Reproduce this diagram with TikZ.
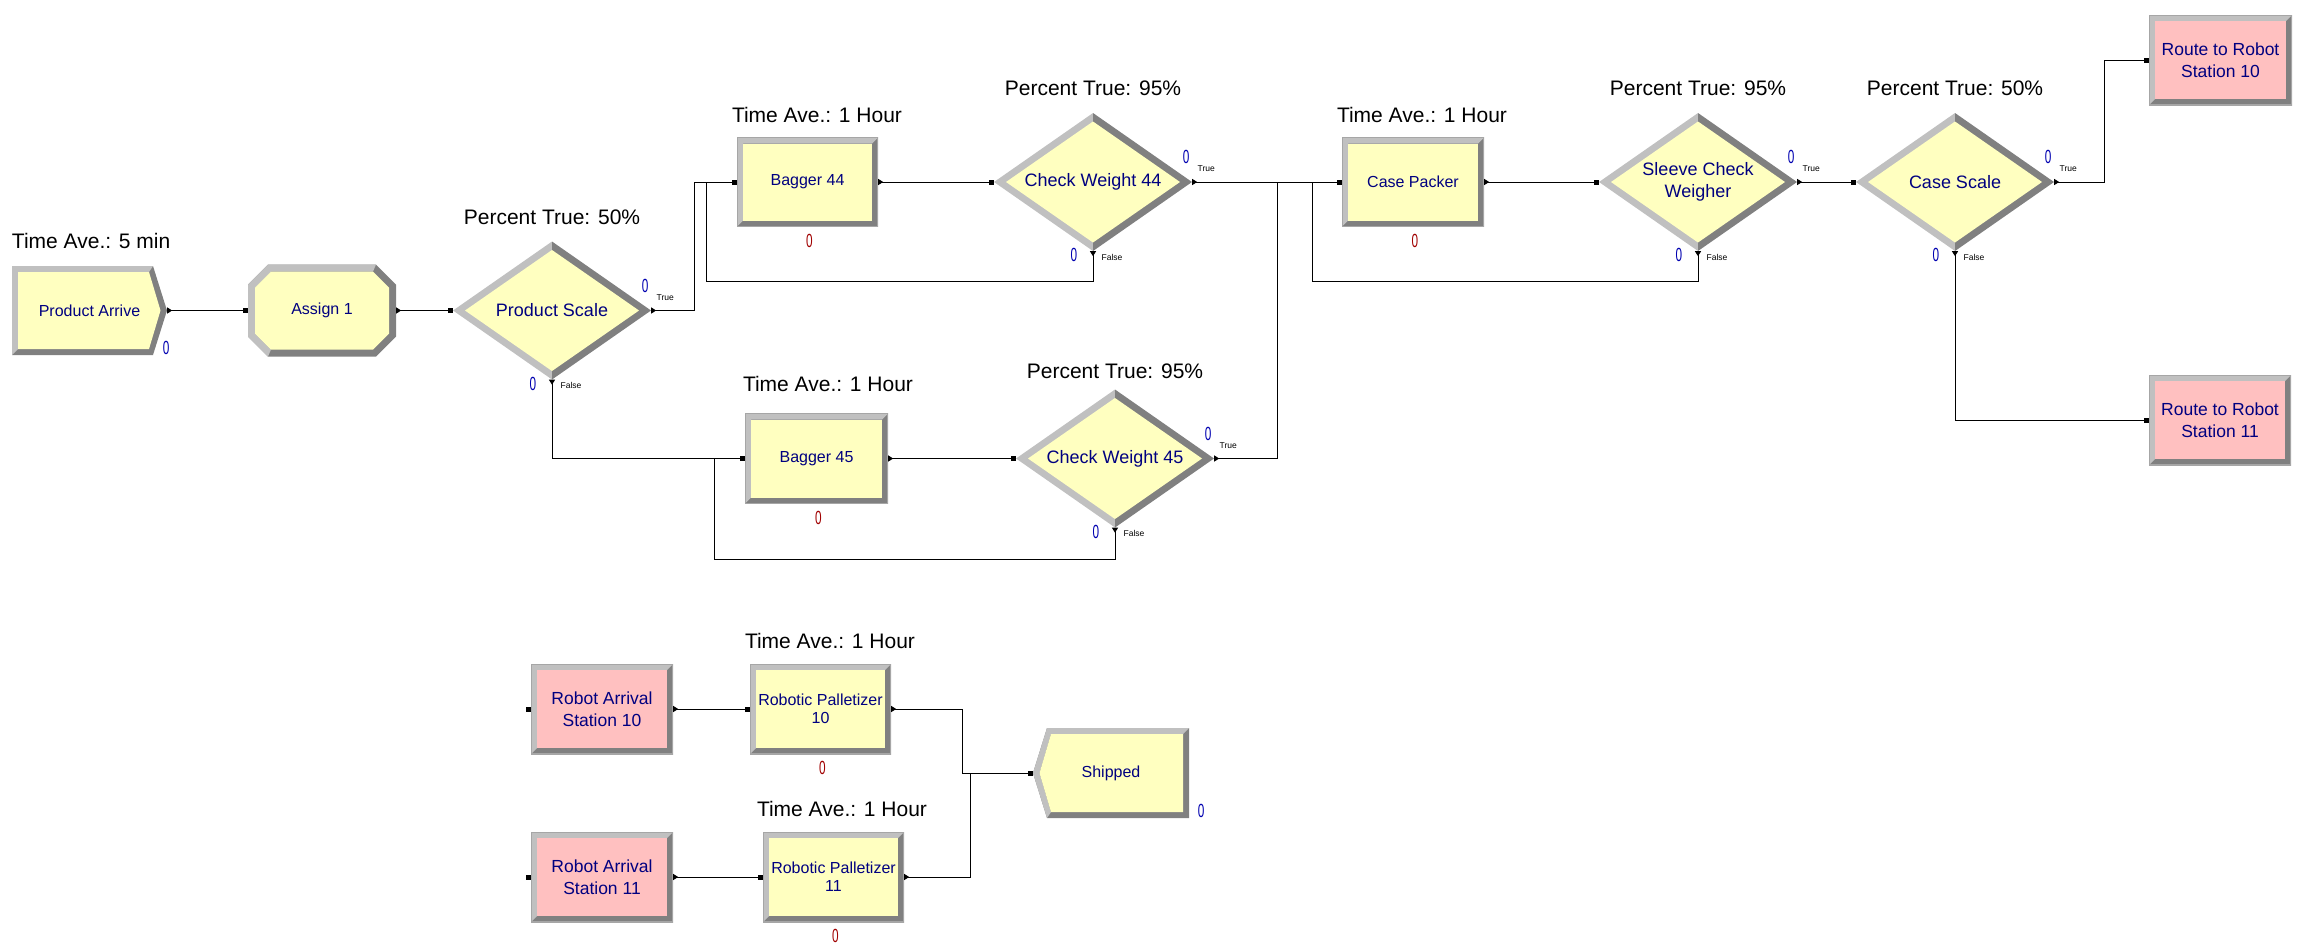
\documentclass[tikz,border=0pt]{standalone}
\usepackage{fontspec}
\setmainfont{Liberation Sans}
\usetikzlibrary{positioning,arrows.meta}
\definecolor{moduleyel}{HTML}{FFFFC0}
\definecolor{modulepink}{HTML}{FFC0C0}
\definecolor{bevlight}{HTML}{C0C0C0}
\definecolor{bevdark}{HTML}{808080}
\definecolor{navytext}{HTML}{000080}
\definecolor{cntblue}{HTML}{0000B0}
\definecolor{cntred}{HTML}{A00000}

\begin{document}
\begin{tikzpicture}[x=1pt,y=-1pt,
  modtext/.style={text=navytext,font=\fontsize{16}{18}\selectfont,align=center,inner sep=0pt},
  bevbox/.style={modtext,minimum width=142pt,minimum height=90pt,path picture={
    \coordinate (sw) at (path picture bounding box.south west);
    \coordinate (ne) at (path picture bounding box.north east);
    \fill[bevdark] (sw) rectangle (ne);
    \fill[bevlight] (sw) |- (ne) -- ++(-6pt,-6pt) -| ([shift={(6pt,6pt)}]sw) -- cycle;
    \fill[#1] ([shift={(6pt,6pt)}]sw) rectangle ([shift={(-6pt,-6pt)}]ne);
    \draw[bevdark!70,line width=1.2pt] (sw) rectangle (ne);}},
  process/.style={bevbox=moduleyel},
  route/.style={bevbox=modulepink,font=\fontsize{17.5}{22}\selectfont},
  decide/.style={modtext,font=\fontsize{18}{22}\selectfont,minimum width=198pt,minimum height=138pt,path picture={
    \coordinate (w) at (path picture bounding box.west);
    \coordinate (n) at (path picture bounding box.north);
    \coordinate (e) at (path picture bounding box.east);
    \coordinate (s) at (path picture bounding box.south);
    \fill[bevlight] (w) -- (n) -- (s) -- cycle;
    \fill[bevdark] (n) -- (e) -- (s) -- cycle;
    \fill[moduleyel] ([xshift=12pt]w) -- ([yshift=-8.5pt]n) -- ([xshift=-12pt]e) -- ([yshift=8.5pt]s) -- cycle;}},
  create/.style={modtext,minimum width=155pt,minimum height=89pt,path picture={
    \coordinate (sw) at (path picture bounding box.south west);
    \coordinate (nw) at (path picture bounding box.north west);
    \coordinate (ne) at (path picture bounding box.north east);
    \coordinate (se) at (path picture bounding box.south east);
    \coordinate (e) at (path picture bounding box.east);
    \fill[bevdark] (sw) -- (nw) -- ([xshift=-14pt]ne) -- (e) -- ([xshift=-14pt]se) -- cycle;
    \fill[bevlight] (sw) -- (nw) -- ([xshift=-14pt]ne) -- ([shift={(-18pt,-6pt)}]ne) -- ([shift={(6pt,-6pt)}]nw) -- ([shift={(6pt,6pt)}]sw) -- cycle;
    \fill[moduleyel] ([shift={(6pt,6pt)}]sw) -- ([shift={(6pt,-6pt)}]nw) -- ([shift={(-18pt,-6pt)}]ne) -- ([xshift=-6.5pt]e) -- ([shift={(-18pt,6pt)}]se) -- cycle;}},
  dispose/.style={modtext,minimum width=156pt,minimum height=90pt,path picture={
    \coordinate (sw) at (path picture bounding box.south west);
    \coordinate (nw) at (path picture bounding box.north west);
    \coordinate (ne) at (path picture bounding box.north east);
    \coordinate (se) at (path picture bounding box.south east);
    \coordinate (w) at (path picture bounding box.west);
    \fill[bevdark] ([xshift=14pt]sw) -- (w) -- ([xshift=14pt]nw) -- (ne) -- (se) -- cycle;
    \fill[bevlight] ([xshift=14pt]sw) -- (w) -- ([xshift=14pt]nw) -- (ne) -- ([shift={(-6pt,-6pt)}]ne) -- ([shift={(18pt,-6pt)}]nw) -- ([xshift=6.5pt]w) -- ([shift={(18pt,6pt)}]sw) -- cycle;
    \fill[moduleyel] ([shift={(18pt,6pt)}]sw) -- ([xshift=6.5pt]w) -- ([shift={(18pt,-6pt)}]nw) -- ([shift={(-6pt,-6pt)}]ne) -- ([shift={(-6pt,6pt)}]se) -- cycle;}},
  assign/.style={modtext,minimum width=148pt,minimum height=92pt,path picture={
    \coordinate (sw) at (path picture bounding box.south west);
    \coordinate (nw) at (path picture bounding box.north west);
    \coordinate (ne) at (path picture bounding box.north east);
    \coordinate (se) at (path picture bounding box.south east);
    \fill[bevdark] ([xshift=20pt]nw) -- ([xshift=-20pt]ne) -- ([yshift=-20pt]ne) -- ([yshift=20pt]se) -- ([xshift=-20pt]se) -- ([xshift=20pt]sw) -- ([yshift=20pt]sw) -- ([yshift=-20pt]nw) -- cycle;
    \fill[bevlight] ([xshift=20pt]sw) -- ([yshift=20pt]sw) -- ([yshift=-20pt]nw) -- ([xshift=20pt]nw) -- ([xshift=-20pt]ne) -- ([shift={(-23pt,-7pt)}]ne) -- ([shift={(23pt,-7pt)}]nw) -- ([shift={(7pt,-23pt)}]nw) -- ([shift={(7pt,23pt)}]sw) -- ([shift={(23pt,7pt)}]sw) -- cycle;
    \fill[moduleyel] ([shift={(23pt,-7pt)}]nw) -- ([shift={(-23pt,-7pt)}]ne) -- ([shift={(-7pt,-23pt)}]ne) -- ([shift={(-7pt,23pt)}]se) -- ([shift={(-23pt,7pt)}]se) -- ([shift={(23pt,7pt)}]sw) -- ([shift={(7pt,23pt)}]sw) -- ([shift={(7pt,-23pt)}]nw) -- cycle;}},
  stat/.style={font=\fontsize{21}{21}\selectfont,inner sep=0pt},
  cnt/.style={font=\fontsize{19}{19}\selectfont,inner sep=0pt},
  tiny/.style={font=\fontsize{8.5}{8.5}\selectfont,inner sep=0pt},
  conn/.style={line width=1pt,{Triangle[reversed,length=5pt,width=6pt]}-{Square[length=5pt,width=5pt]}}
]
  \useasboundingbox (0,0) rectangle (2302,951);

  % narrow counter digit
  \def\cz{\scalebox{0.62}[1]{0}}
  % counters and branch labels of a decide module
  \def\decidemarks#1{%
    \node[cnt,text=cntblue] (#1t0) at ([shift={(-6pt,25pt)}]#1.east) {\cz};
    \node[tiny] (#1tl) at ([shift={(14pt,13pt)}]#1.east) {True};
    \node[cnt,text=cntblue] (#1f0) at ([shift={(-19pt,-4pt)}]#1.south) {\cz};
    \node[tiny] (#1fl) at ([shift={(19pt,-6pt)}]#1.south) {False};
  }
  \def\busy#1{\node[cnt,text=cntred] (#1c) at ([shift={(2pt,-14pt)}]#1.south) {\cz};}

  % main line
  \node[create] (arr) at (89.5,310.5) {Product Arrive};
  \node[assign] (asg) at (322,310.5) {Assign 1};
  \node[decide] (ps) at (552,310.5) {Product Scale};
  \node[process,minimum width=141pt,minimum height=89pt] (bag44) at (807.5,182) {Bagger 44};
  \node[decide] (cw44) at (1093,182) {Check Weight 44};
  \node[process,minimum width=143pt] (bag45) at (816.5,458.5) {Bagger 45};
  \node[decide] (cw45) at (1115,458.5) {Check Weight 45};
  \node[process,minimum height=89pt] (cp) at (1413,182) {Case Packer};
  \node[decide] (scw) at (1698,182) {Sleeve Check\\Weigher};
  \node[decide] (cs) at (1955,182) {Case Scale};
  \node[route,minimum width=143pt] (r10) at (2220.5,60) {Route to Robot\\Station 10};
  \node[route] (r11) at (2220,420) {Route to Robot\\Station 11};

  % robot stations
  \node[route] (ra10) at (602,709) {Robot Arrival\\Station 10};
  \node[process,minimum width=141pt] (rp10) at (820.5,709) {Robotic Palletizer\\10};
  \node[route] (ra11) at (602,877) {Robot Arrival\\Station 11};
  \node[process,minimum width=141pt] (rp11) at (833.5,877) {Robotic Palletizer\\11};
  \node[dispose] (ship) at (1111,773) {Shipped};

  % statistics above the modules
  \node[stat,anchor=base west] (tarr) at ([shift={(0pt,17pt)}]arr.north west) {Time Ave.: 5 min};
  \node[stat,anchor=base west] (tbag44) at ([shift={(-5pt,15pt)}]bag44.north west) {Time Ave.: 1 Hour};
  \node[stat,anchor=base west] (tbag45) at ([shift={(-2pt,22pt)}]bag45.north west) {Time Ave.: 1 Hour};
  \node[stat,anchor=base west] (tcp) at ([shift={(-5pt,15pt)}]cp.north west) {Time Ave.: 1 Hour};
  \node[stat,anchor=base west] (trp10) at ([shift={(-5pt,15pt)}]rp10.north west) {Time Ave.: 1 Hour};
  \node[stat,anchor=base west] (trp11) at ([shift={(-6pt,15pt)}]rp11.north west) {Time Ave.: 1 Hour};
  \node[stat,anchor=base] (pps) at ([yshift=17pt]ps.north) {Percent True: 50\%};
  \node[stat,anchor=base] (pcw44) at ([yshift=17pt]cw44.north) {Percent True: 95\%};
  \node[stat,anchor=base] (pcw45) at ([yshift=11pt]cw45.north) {Percent True: 95\%};
  \node[stat,anchor=base] (pscw) at ([yshift=17pt]scw.north) {Percent True: 95\%};
  \node[stat,anchor=base] (pcs) at ([yshift=17pt]cs.north) {Percent True: 50\%};

  \foreach \d in {ps,cw44,cw45,scw,cs} {\decidemarks{\d}}
  \foreach \p in {bag44,bag45,cp,rp10,rp11} {\busy{\p}}
  \node[cnt,text=cntblue] (arrc) at ([shift={(-1pt,7pt)}]arr.south east) {\cz};
  \node[cnt,text=cntblue] (shipc) at ([shift={(12pt,7pt)}]ship.south east) {\cz};

  % connectors
  \draw[conn] (arr.east) -- (asg.west);
  \draw[conn] (asg.east) -- (ps.west);
  \draw[conn] (ps.east) -- ++(43,0) |- (bag44.west);
  \draw[conn] (ps.south) |- (bag45.west);
  \draw[conn] (bag44.east) -- (cw44.west);
  \draw[conn] (cw44.south) -- ++(0,30) -| ([xshift=-30pt]bag44.west) -- (bag44.west);
  \draw[conn] (bag45.east) -- (cw45.west);
  \draw[conn] (cw45.south) -- ++(0,32) -| ([xshift=-30pt]bag45.west) -- (bag45.west);
  \draw[conn] (cw44.east) -- (cp.west);
  \draw[conn] (cw45.east) -| ([xshift=-64pt]cp.west) -- (cp.west);
  \draw[conn] (cp.east) -- (scw.west);
  \draw[conn] (scw.south) -- ++(0,30) -| ([xshift=-29pt]cp.west) -- (cp.west);
  \draw[conn] (scw.east) -- (cs.west);
  \draw[conn] (cs.east) -- ++(50,0) |- (r10.west);
  \draw[conn] (cs.south) |- (r11.west);
  \draw[conn] (ra10.east) -- (rp10.west);
  \draw[conn] (ra11.east) -- (rp11.west);
  \draw[conn] (rp10.east) -- ++(71,0) |- (ship.west);
  \draw[conn] (rp11.east) -- ++(66,0) |- (ship.west);
  % entry points of the stations
  \fill ([shift={(-5pt,-2.5pt)}]ra10.west) rectangle ++(5pt,5pt);
  \fill ([shift={(-5pt,-2.5pt)}]ra11.west) rectangle ++(5pt,5pt);
\end{tikzpicture}
\end{document}
